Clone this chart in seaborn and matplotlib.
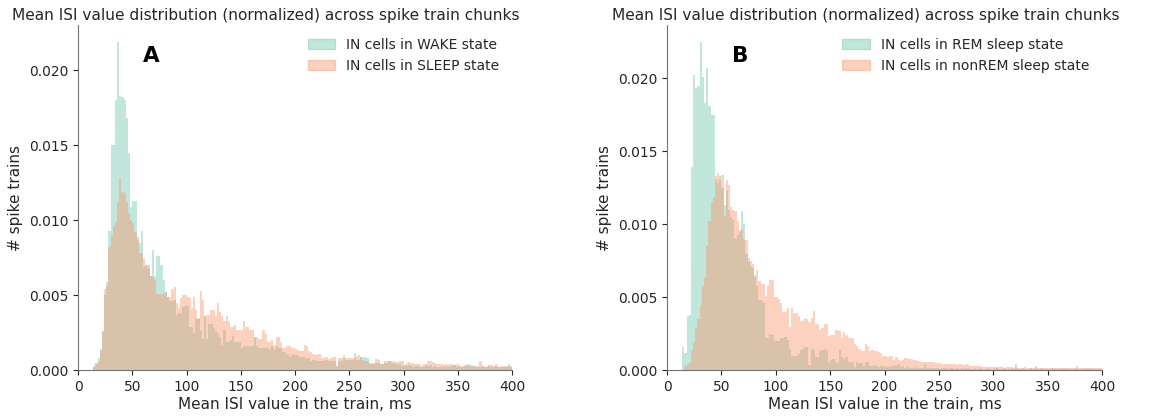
import numpy as np
import pandas as pd
import matplotlib
matplotlib.use("Agg")
import matplotlib.pyplot as plt
import matplotlib.patches as mpatches
import seaborn as sns

# histogram heights, 2 ms bins from 0 to 400 ms, in units of 1e-3
wake_a = [
    0, 0, 0, 0, 0, 0, 0, 0.2, 0.4, 0.8,
    1.4, 2.6, 5.0, 5.9, 9.3, 15.0, 15.0, 18.0, 21.9, 18.3,
    18.2, 18.0, 16.8, 14.5, 10.9, 11.3, 11.3, 8.9, 8.5, 9.3,
    6.9, 7.0, 7.0, 6.3, 8.0, 6.3, 7.6, 7.6, 7.0, 6.0,
    5.2, 4.9, 4.6, 4.6, 4.7, 3.7, 3.8, 3.8, 4.2, 4.3,
    4.3, 2.9, 2.9, 2.5, 3.4, 3.4, 2.6, 2.1, 3.6, 2.1,
    3.1, 3.1, 2.8, 2.6, 2.5, 2.25, 1.7, 2.7, 1.9, 1.9,
    2.0, 2.3, 1.9, 1.9, 1.9, 1.5, 1.6, 1.6, 1.6, 1.6,
    1.6, 2.2, 1.6, 1.5, 1.5, 1.5, 1.5, 1.5, 1.4, 1.6,
    1.4, 1.6, 1.5, 1.5, 1.25, 1.2, 1.1, 0.9, 1.0, 1.1,
    1.0, 1.0, 0.9, 0.9, 0.9, 0.8, 0.8, 0.6, 0.7, 0.7,
    0.6, 0.6, 0.6, 0.6, 0.7, 0.6, 0.6, 0.6, 0.6, 0.3,
    0.6, 0.6, 1.0, 0.7, 0.7, 0.7, 0.7, 1.15, 0.7, 0.7,
    0.9, 0.9, 0.9, 0.8, 0.4, 0.4, 0.4, 0.5, 0.5, 0.4,
    0.4, 0.5, 0.5, 0.6, 0.45, 0.5, 0.4, 0.35, 0.4, 0.3,
    0.35, 0.3, 0.35, 0.3, 0.25, 0.3, 0.3, 0.2, 0.25, 0.3,
    0.35, 0.3, 0.35, 0.25, 0.3, 0.25, 0.2, 0.25, 0.3, 0.25,
    0.3, 0.25, 0.3, 0.35, 0.25, 0.3, 0.2, 0.25, 0.3, 0.45,
    0.4, 0.35, 0.3, 0.25, 0.2, 0.25, 0.3, 0.2, 0.25, 0.3,
    0.25, 0.2, 0.3, 0.25, 0.2, 0.25, 0.3, 0.2, 0.45, 0.3,
]
sleep_a = [
    0, 0, 0, 0, 0, 0, 0, 0.3, 0.5, 0.6,
    1.3, 2.6, 5.4, 5.6, 8.2, 9.0, 9.6, 9.9, 11.2, 12.8,
    11.9, 11.8, 11.2, 10.5, 10.0, 9.8, 9.2, 8.7, 7.8, 7.8,
    7.5, 7.0, 6.8, 6.3, 6.2, 6.0, 5.1, 5.1, 5.1, 5.1,
    5.26, 4.9, 4.9, 5.4, 5.55, 4.5, 4.15, 4.8, 5.0, 5.0,
    4.9, 4.8, 4.15, 4.9, 4.0, 3.5, 5.3, 4.7, 3.6, 3.7,
    3.7, 4.0, 4.0, 3.6, 4.5, 3.9, 3.6, 3.3, 3.6, 3.3,
    2.9, 2.9, 3.0, 2.7, 2.7, 2.7, 3.3, 2.9, 2.9, 2.7,
    2.7, 2.25, 2.25, 2.1, 2.1, 2.7, 2.4, 1.9, 1.9, 2.0,
    1.7, 2.25, 2.2, 1.9, 1.5, 1.5, 1.6, 1.6, 1.5, 1.5,
    1.4, 1.35, 1.3, 1.3, 1.7, 1.6, 1.3, 1.2, 1.1, 1.0,
    1.1, 1.1, 0.85, 0.8, 0.9, 0.75, 0.8, 0.9, 0.9, 0.3,
    0.8, 0.8, 0.8, 0.8, 0.8, 0.85, 0.85, 0.8, 0.95, 1.0,
    0.9, 0.7, 0.6, 0.6, 0.5, 0.5, 0.5, 0.75, 0.7, 0.4,
    0.4, 0.6, 0.65, 0.6, 0.65, 0.6, 0.55, 0.55, 0.6, 0.6,
    0.35, 0.5, 0.55, 0.5, 0.5, 0.45, 0.4, 0.4, 0.3, 0.4,
    0.45, 0.65, 0.6, 0.55, 0.5, 0.4, 0.45, 0.4, 0.35, 0.4,
    0.35, 0.4, 0.4, 0.35, 0.4, 0.35, 0.3, 0.3, 0.35, 0.3,
    0.3, 0.25, 0.3, 0.3, 0.3, 0.6, 0.3, 0.25, 0.3, 0.35,
    0.35, 0.3, 0.4, 0.3, 0.25, 0.3, 0.25, 0.3, 0.3, 0.25,
]
rem_b = [
    0, 0, 0, 0, 0, 0, 0, 1.6, 1.2, 3.7,
    3.8, 13.9, 20.2, 19.3, 19.5, 22.5, 20.1, 18.3, 20.7, 18.1,
    17.5, 17.5, 13.0, 12.8, 13.3, 12.5, 11.3, 12.3, 11.0, 10.5,
    10.3, 9.0, 9.3, 9.5, 10.9, 10.0, 8.0, 7.4, 7.1, 7.0,
    6.5, 5.8, 4.8, 4.8, 4.6, 2.2, 2.2, 2.5, 2.4, 2.0,
    2.0, 2.0, 2.2, 2.2, 2.3, 2.1, 1.5, 1.0, 1.0, 1.0,
    1.1, 1.4, 1.5, 1.6, 1.6, 0.4, 1.5, 1.4, 0.9, 0.9,
    1.3, 1.4, 1.5, 1.4, 0.5, 0.7, 0.8, 0.6, 0.5, 1.4,
    0.9, 0.8, 0.9, 0.6, 0.6, 0.6, 0.25, 0.6, 0.5, 0.5,
    0.3, 0.6, 0.6, 0.3, 0.3, 0.4, 0.3, 0.25, 0.3, 0.3,
    0.25, 0.3, 0.25, 0.3, 0.3, 0.35, 0.45, 0.25, 0.3, 0.2,
    0.25, 0.2, 0.15, 0.2, 0.25, 0.2, 0.15, 0.2, 0.45, 0.2,
    0.15, 0.2, 0.15, 0.2, 0.15, 0.1, 0.15, 0.2, 0.15, 0.1,
    0.15, 0.2, 0.1, 0.15, 0.1, 0.15, 0.1, 0.15, 0.2, 0.1,
    0.1, 0.15, 0.1, 0.1, 0.15, 0.1, 0.1, 0.15, 0.1, 0.1,
    0.1, 0.15, 0.1, 0.1, 0.1, 0.15, 0.1, 0.1, 0.15, 0.1,
    0.43, 0.1, 0.1, 0.15, 0.1, 0.1, 0.1, 0.15, 0.1, 0.3,
    0.1, 0.1, 0.15, 0.1, 0.1, 0.1, 0.1, 0.15, 0.1, 0.1,
    0.1, 0.1, 0.15, 0.1, 0.1, 0.1, 0.1, 0.1, 0.3, 0.1,
    0.1, 0.1, 0.1, 0.15, 0.1, 0.1, 0.1, 0.1, 0.1, 0.1,
]
nonrem_b = [
    0, 0, 0, 0, 0, 0, 0, 0, 0.3, 0.45,
    0.5, 1.3, 1.9, 2.9, 3.5, 4.5, 5.8, 6.4, 8.5, 10.2,
    11.5, 11.9, 13.3, 13.5, 13.1, 13.4, 10.6, 13.0, 12.7, 11.2,
    11.0, 10.9, 10.2, 9.6, 9.6, 9.0, 8.9, 7.7, 7.5, 7.3,
    6.4, 6.9, 6.1, 5.9, 5.9, 5.1, 5.8, 6.2, 6.2, 5.0,
    5.0, 4.9, 4.65, 4.0, 4.0, 4.3, 3.0, 4.3, 3.9, 3.9,
    3.7, 3.4, 3.4, 3.6, 3.5, 3.3, 3.6, 4.1, 3.2, 3.2,
    2.75, 2.9, 3.2, 3.2, 2.34, 2.4, 2.4, 2.8, 2.8, 2.7,
    2.2, 2.6, 2.4, 2.2, 2.2, 2.2, 1.8, 1.7, 1.5, 1.3,
    1.3, 1.8, 1.7, 1.3, 1.4, 1.3, 1.3, 1.25, 1.2, 1.0,
    1.0, 0.95, 1.0, 1.0, 0.75, 0.9, 0.7, 0.65, 0.7, 0.85,
    0.85, 0.8, 0.8, 0.7, 0.7, 0.66, 0.66, 0.6, 0.6, 0.6,
    0.55, 0.55, 0.55, 0.5, 0.5, 0.5, 0.45, 0.45, 0.45, 0.45,
    0.42, 0.45, 0.42, 0.4, 0.45, 0.42, 0.4, 0.42, 0.45, 0.3,
    0.28, 0.3, 0.28, 0.3, 0.28, 0.25, 0.22, 0.25, 0.23, 0.25,
    0.22, 0.24, 0.25, 0.22, 0.24, 0.2, 0.23, 0.25, 0.22, 0.2,
    0.22, 0.2, 0.18, 0.2, 0.22, 0.18, 0.2, 0.18, 0.2, 0.2,
    0.18, 0.2, 0.18, 0.17, 0.2, 0.18, 0.17, 0.2, 0.18, 0.17,
    0.2, 0.17, 0.18, 0.2, 0.17, 0.18, 0.17, 0.2, 0.18, 0.17,
    0.18, 0.17, 0.2, 0.17, 0.18, 0.17, 0.17, 0.18, 0.17, 0.2,
]

panels = [
    ("A", wake_a, sleep_a, "IN cells in WAKE state", "IN cells in SLEEP state"),
    ("B", rem_b, nonrem_b, "IN cells in REM sleep state", "IN cells in nonREM sleep state"),
]
title = "Mean ISI value distribution (normalized) across spike train chunks"

sns.set_style("ticks", {"axes.edgecolor": ".45"})
pal = sns.color_palette("Set2")
bin_w = 2
centers = np.arange(0, 400, bin_w) + bin_w / 2

fig = plt.figure(figsize=(11.68, 4.19), dpi=100)
axes = [fig.add_axes([0.0668, 0.1158, 0.3716, 0.824]),
        fig.add_axes([0.5711, 0.1158, 0.3724, 0.824])]
title_x = [0.432, 0.457]

for ax, (letter, first, second, lab1, lab2), tx in zip(axes, panels, title_x):
    for vals, col in [(first, pal[0]), (second, pal[1])]:
        df = pd.DataFrame({"isi": centers, "w": np.array(vals) * 1e-3})
        sns.histplot(data=df, x="isi", weights="w", binwidth=bin_w, binrange=(0, 400),
                     ax=ax, color=col, alpha=0.4, linewidth=0, element="bars")
    ax.set_xlim(0, 400)
    ax.set_xticks(range(0, 401, 50))
    ax.set_yticks([0, 0.005, 0.010, 0.015, 0.020])
    ax.set_yticklabels(["0.000", "0.005", "0.010", "0.015", "0.020"])
    ax.tick_params(labelsize=10)
    ax.set_xlabel("Mean ISI value in the train, ms", fontsize=11, labelpad=2)
    ax.set_ylabel("# spike trains", fontsize=11)
    ax.set_title(title, fontsize=11.1, x=tx, pad=4)
    ax.text(0.168, 0.91, letter, transform=ax.transAxes, fontsize=15.5,
            fontweight="bold", ha="center", va="center", color="black")
    handles = [mpatches.Patch(color=pal[0], alpha=0.4, label=lab1),
               mpatches.Patch(color=pal[1], alpha=0.4, label=lab2)]
    ax.legend(handles=handles, loc="upper right", frameon=False, fontsize=10)
    sns.despine(ax=ax)

fig.savefig("out.png", dpi=100)
